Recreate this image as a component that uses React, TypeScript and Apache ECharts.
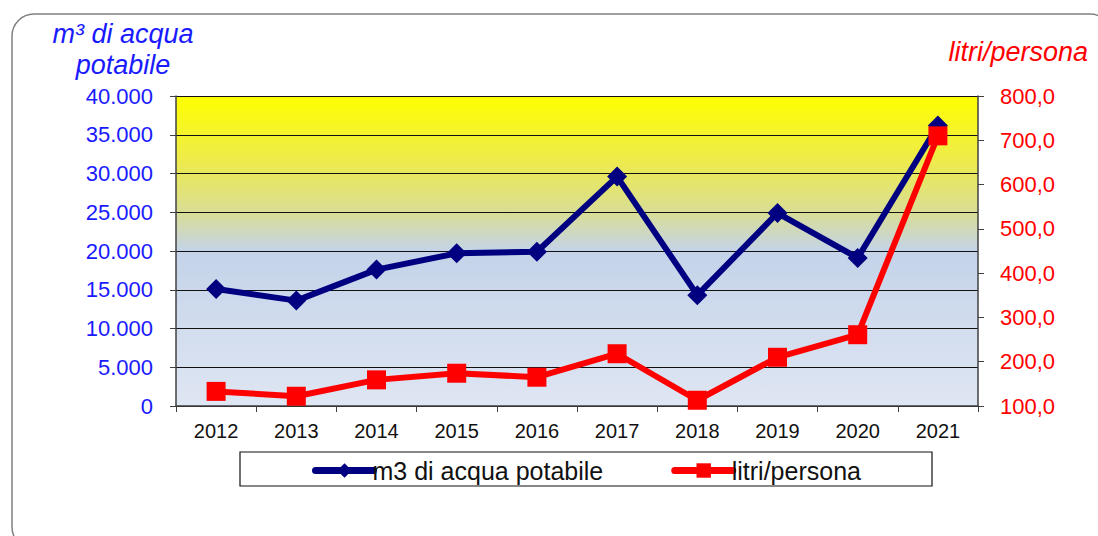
import React, { useEffect, useRef } from "react";
import * as echarts from "echarts";

const years = ["2012", "2013", "2014", "2015", "2016", "2017", "2018", "2019", "2020", "2021"];
const m3Acqua = [15100, 13600, 17600, 19700, 19900, 29600, 14300, 24900, 19100, 36200];
const litriPersona = [133, 122, 159, 174, 165, 218, 113, 210, 261, 710];

const seriesNames = ["m3 di acqua potabile", "litri/persona"];
const leftTitle = ["m³ di acqua", "potabile"];
const rightTitle = "litri/persona";

const FONT = "'Liberation Sans', Arial, sans-serif";

function fmtThousands(v: number) {
  return String(Math.round(v)).replace(/\B(?=(\d{3})+(?!\d))/g, ".");
}

export default function App() {
  const ref = useRef<HTMLDivElement>(null);
  useEffect(() => {
    document.body.style.margin = "0";
    const chart = echarts.init(ref.current!, null, { renderer: "svg" });
    chart.setOption({
      animation: false,
      backgroundColor: "#ffffff",
      textStyle: { fontFamily: FONT },
      grid: {
        left: 176,
        right: 120,
        top: 96,
        bottom: 130,
        containLabel: false,
        outerBoundsMode: "none",
        show: true,
        borderWidth: 0,
        backgroundColor: {
          type: "linear",
          x: 0, y: 0, x2: 0, y2: 1,
          colorStops: [
            { offset: 0, color: "#ffff00" },
            { offset: 0.22, color: "#ecea50" },
            { offset: 0.38, color: "#d8dd98" },
            { offset: 0.5, color: "#c4d3e9" },
            { offset: 1, color: "#dfe6f3" },
          ],
        },
      },
      legend: {
        left: 307,
        top: 453,
        itemWidth: 58,
        itemHeight: 18,
        itemGap: 68,
        textStyle: { fontSize: 25, color: "#111", fontFamily: FONT, padding: [0, 0, 0, -6] },
        data: [
          { name: seriesNames[0], lineStyle: { width: 7, cap: "round", color: "#000080" }, itemStyle: { color: "#000080" } },
          { name: seriesNames[1], lineStyle: { width: 7, cap: "round", color: "#ff0000" }, itemStyle: { color: "#ff0000" } },
        ],
      },
      xAxis: {
        type: "category",
        data: years,
        boundaryGap: true,
        axisLine: { lineStyle: { color: "#404040", width: 1.5 } },
        axisTick: { show: true, interval: 0, length: 6, lineStyle: { color: "#404040" } },
        axisLabel: { color: "#111", fontSize: 20, margin: 15, interval: 0 },
      },
      yAxis: [
        {
          type: "value",
          min: 0,
          max: 40000,
          interval: 5000,
          position: "left",
          axisLine: { show: true, lineStyle: { color: "#404040", width: 1.5 } },
          axisTick: { show: true, length: 6, lineStyle: { color: "#404040" } },
          axisLabel: { color: "#1a1aff", fontSize: 22, margin: 23, formatter: (v: number) => fmtThousands(v) },
          splitLine: { show: true, lineStyle: { color: "#111", width: 1.2 } },
        },
        {
          type: "value",
          min: 100,
          max: 800,
          interval: 100,
          position: "right",
          axisLine: { show: true, lineStyle: { color: "#404040", width: 1.5 } },
          axisTick: { show: true, length: 6, lineStyle: { color: "#404040" } },
          axisLabel: { color: "#ff0000", fontSize: 22, margin: 22, formatter: (v: number) => v.toFixed(1).replace(".", ",") },
          splitLine: { show: false },
        },
      ],
      series: [
        {
          name: seriesNames[0],
          type: "line",
          data: m3Acqua,
          yAxisIndex: 0,
          symbol: "diamond",
          symbolSize: 20,
          lineStyle: { color: "#000080", width: 6 },
          itemStyle: { color: "#000080" },
          z: 3,
        },
        {
          name: seriesNames[1],
          type: "line",
          data: litriPersona,
          yAxisIndex: 1,
          symbol: "rect",
          symbolSize: 19,
          lineStyle: { color: "#ff0000", width: 6 },
          itemStyle: { color: "#ff0000" },
          z: 4,
        },
      ],
      graphic: [
        {
          type: "rect",
          shape: { x: 12, y: 14, width: 1100, height: 535, r: 22 },
          style: { fill: "none", stroke: "#808080", lineWidth: 1.5 },
          z: 0,
          silent: true,
        },
        {
          type: "rect",
          shape: { x: 240, y: 452, width: 692, height: 34 },
          style: { fill: "none", stroke: "#111", lineWidth: 1.2 },
          z: 0,
          silent: true,
        },
        {
          type: "text",
          x: 123,
          y: 34,
          style: { text: leftTitle[0], fill: "#1a1aff", font: `italic 27px ${FONT}`, align: "center", verticalAlign: "middle" },
        },
        {
          type: "text",
          x: 123,
          y: 65,
          style: { text: leftTitle[1], fill: "#1a1aff", font: `italic 27px ${FONT}`, align: "center", verticalAlign: "middle" },
        },
        {
          type: "text",
          x: 1088,
          y: 52,
          style: { text: rightTitle, fill: "#ff0000", font: `italic 27px ${FONT}`, align: "right", verticalAlign: "middle" },
        },
      ],
    });
    return () => chart.dispose();
  }, []);
  return <div ref={ref} style={{ width: 1098, height: 536 }} />;
}
